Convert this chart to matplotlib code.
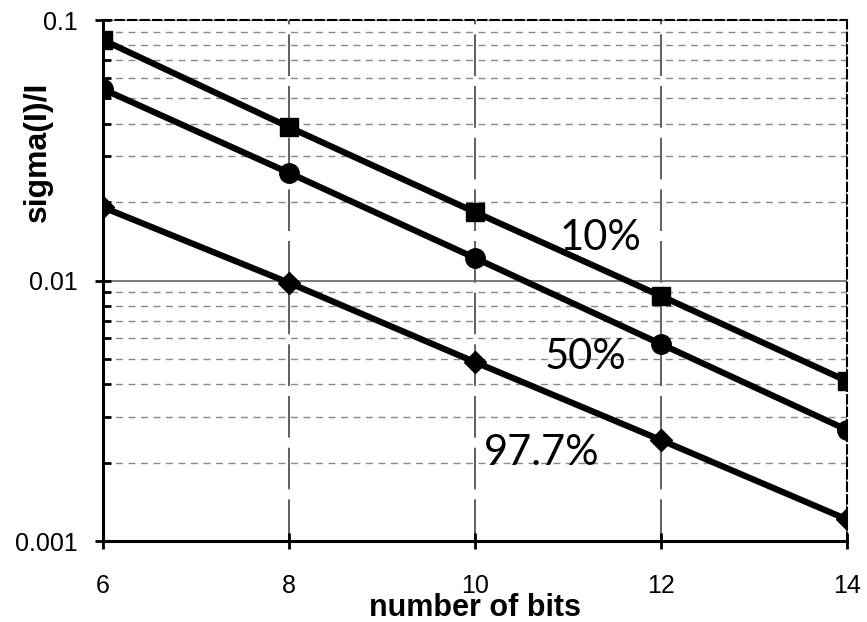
import matplotlib.pyplot as plt
from matplotlib.ticker import LogLocator, FixedLocator, NullFormatter

# sigma(I)/I frente al número de bits, para tres niveles
bits = [6, 8, 10, 12, 14]
sigma_10 = [0.0838, 0.0388, 0.0183, 0.00872, 0.00411]
sigma_50 = [0.0543, 0.0259, 0.0122, 0.0057, 0.00267]
sigma_977 = [0.0191, 0.0098, 0.00486, 0.00244, 0.00121]
etiquetas = ["10%", "50%", "97.7%"]

fig = plt.figure(figsize=(8.67, 6.22), dpi=100)
ax = fig.add_axes([0.1188, 0.1302, 0.8582, 0.8376])

ax.set_yscale("log")
ax.set_xlim(6, 14)
ax.set_ylim(0.001, 0.1)

# Rejilla: discontinua gris en las divisiones menores, más marcada en las mayores
ax.yaxis.set_minor_locator(LogLocator(base=10, subs=range(2, 10)))
ax.yaxis.set_minor_formatter(NullFormatter())
ax.grid(True, which="minor", axis="y", color="#888888", ls=(0, (5, 4)), lw=1.0)
ax.grid(True, which="major", axis="y", color="#666666", ls="-", lw=1.2)
ax.xaxis.set_major_locator(FixedLocator(bits))
ax.grid(True, which="major", axis="x", color="#444444", ls=(0, (25, 6)), lw=1.2)

ax.plot(bits, sigma_10, color="black", lw=4.5, marker="s", ms=13, zorder=3)
ax.plot(bits, sigma_50, color="black", lw=4.5, marker="o", ms=14, zorder=3)
ax.plot(bits, sigma_977, color="black", lw=4.5, marker="D", ms=11, zorder=3)

for sp in ["left", "bottom"]:
    ax.spines[sp].set_linewidth(2.2)
for sp in ["top", "right"]:
    ax.spines[sp].set_linewidth(1.5)
    ax.spines[sp].set_linestyle((0, (4, 2)))

ax.tick_params(axis="y", which="major", direction="inout", length=12, width=2, pad=12)
ax.tick_params(axis="y", which="minor", direction="in", length=6, width=2)
ax.tick_params(axis="x", which="major", direction="inout", length=12, width=2, pad=18)
ax.set_yticks([0.001, 0.01, 0.1])
ax.set_yticklabels(["0.001", "0.01", "0.1"], family="Liberation Sans", fontsize=18)
ax.set_xticklabels([str(b) for b in bits], family="Liberation Sans", fontsize=18)

ax.set_xlabel("number of bits", family="Liberation Sans", fontsize=22,
              fontweight="bold")
ax.xaxis.set_label_coords(0.5, -0.1)
ax.set_ylabel("sigma(I)/I", family="Liberation Sans", fontsize=23,
              fontweight="bold")
ax.yaxis.set_label_coords(-0.067, 0.747)

# Rótulos de cada curva
ax.text(10.91, 0.0146, etiquetas[0], fontsize=30, family="Lato", ha="left", va="center")
ax.text(10.75, 0.0051, etiquetas[1], fontsize=30, family="Lato", ha="left", va="center")
ax.text(10.1, 0.00218, etiquetas[2], fontsize=30, family="Lato", ha="left", va="center")

fig.savefig("out.png", dpi=100)
